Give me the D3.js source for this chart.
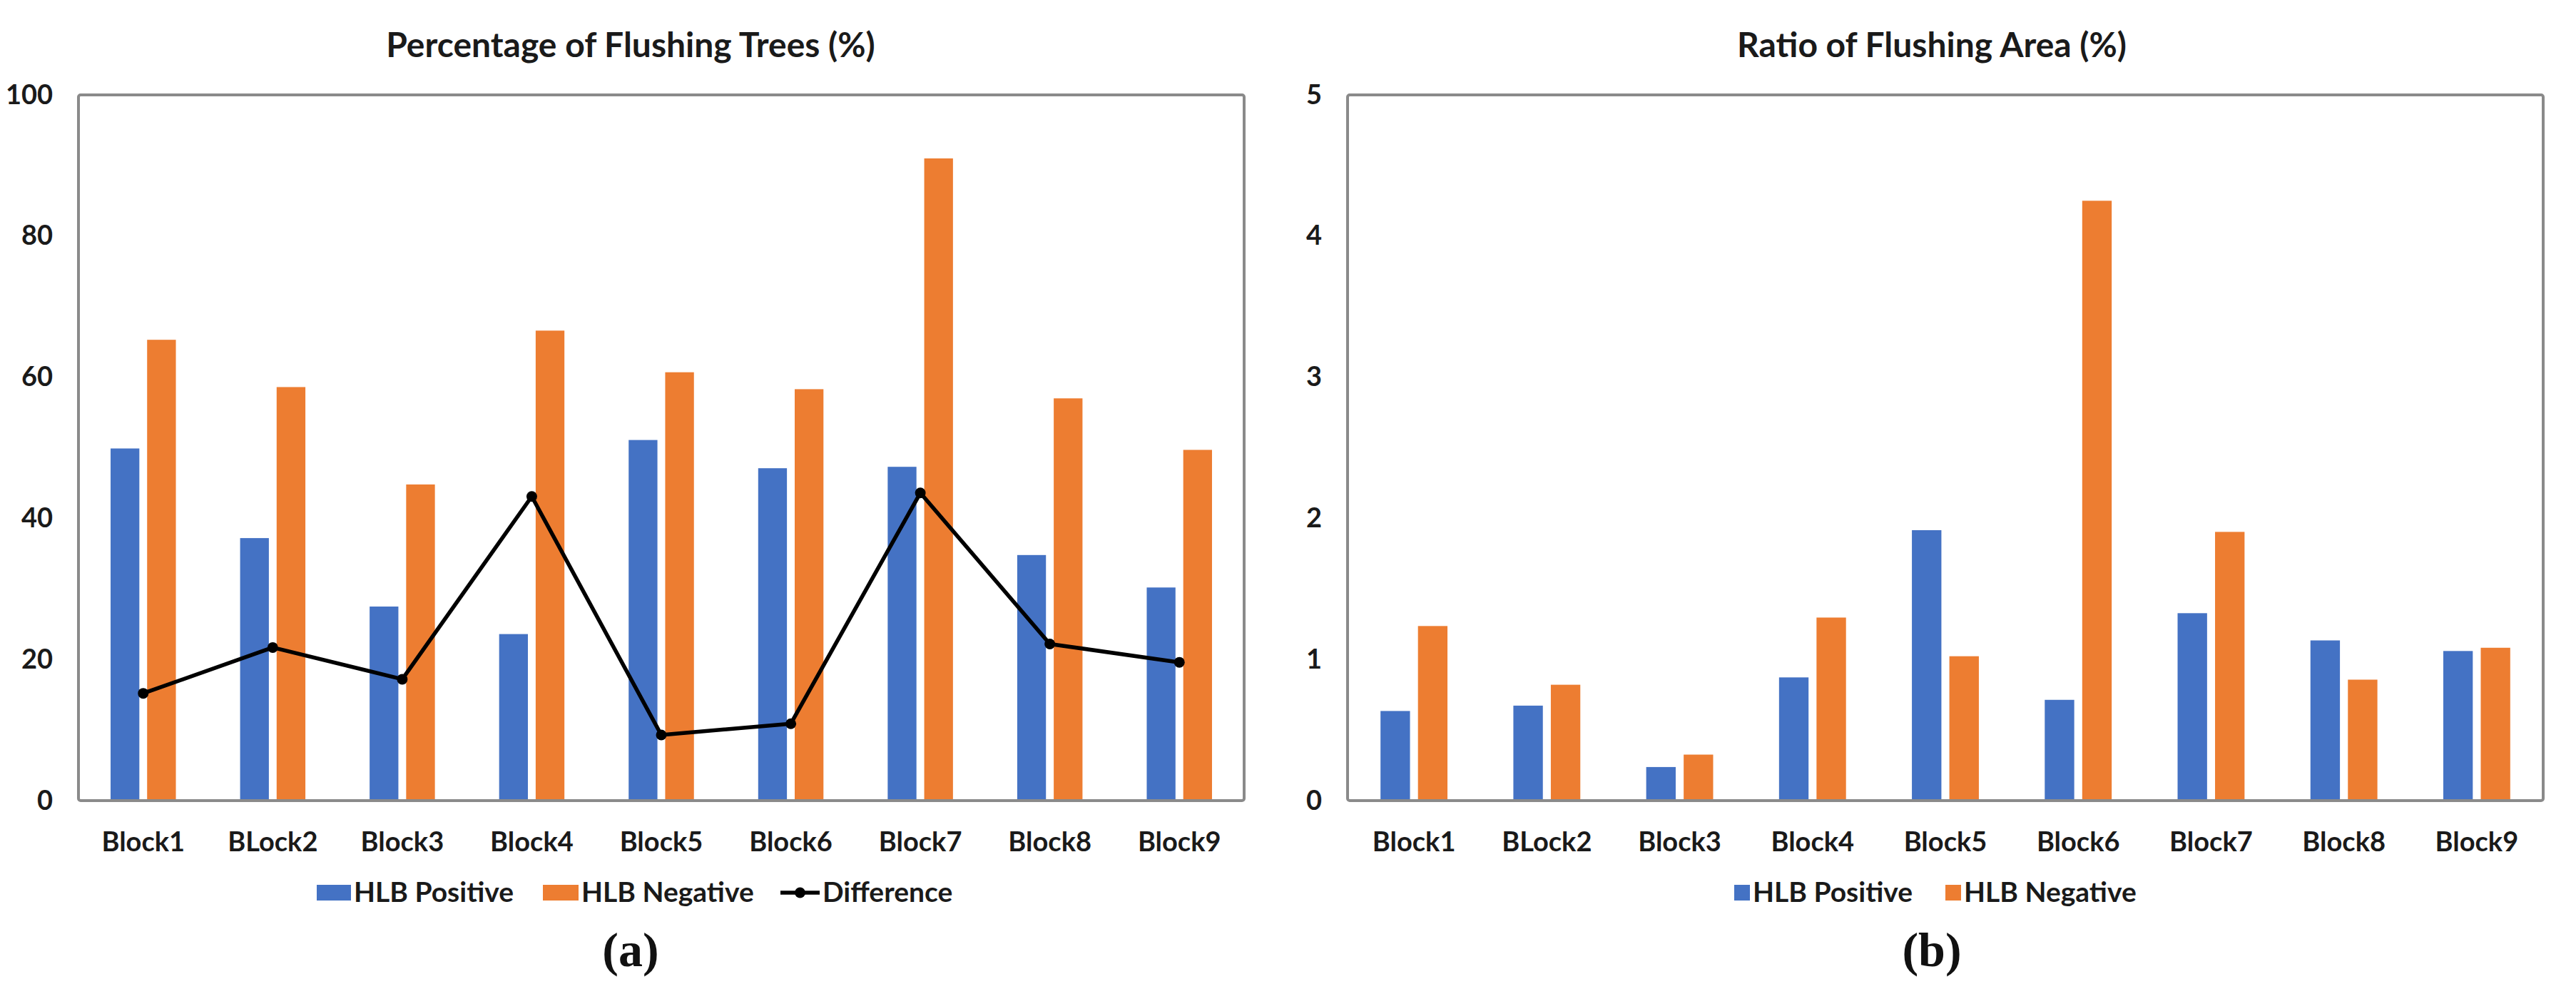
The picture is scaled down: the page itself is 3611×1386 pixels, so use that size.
<!DOCTYPE html>
<html>
<head>
<meta charset="utf-8">
<script src="https://cdn.jsdelivr.net/npm/d3@7"></script>
<style>
  html, body { margin: 0; padding: 0; background: #ffffff; }
  svg { display: block; }
</style>
</head>
<body>
<svg id="chart" width="3611" height="1386"></svg>
<script>
// ---- data ----
const categories = ["Block1", "BLock2", "Block3", "Block4", "Block5", "Block6", "Block7", "Block8", "Block9"];

// (a) Percentage of Flushing Trees (%)
const treesPositive   = [49.9, 37.2, 27.5, 23.6, 51.1, 47.1, 47.3, 34.8, 30.2];
const treesNegative   = [65.3, 58.6, 44.8, 66.6, 60.7, 58.3, 91.0, 57.0, 49.7];
const treesDifference = [15.2, 21.7, 17.2, 43.1, 9.3, 10.9, 43.6, 22.2, 19.6];
const treesTicks = [0, 20, 40, 60, 80, 100];

// (b) Ratio of Flushing Area (%)
const areaPositive = [0.635, 0.673, 0.238, 0.873, 1.916, 0.714, 1.328, 1.135, 1.06];
const areaNegative = [1.237, 0.821, 0.326, 1.297, 1.023, 4.25, 1.904, 0.857, 1.083];
const areaTicks = [0, 1, 2, 3, 4, 5];

const seriesNames = ["HLB Positive", "HLB Negative", "Difference"];
const titles = ["Percentage of Flushing Trees (%)", "Ratio of Flushing Area (%)"];
const panelLabels = ["(a)", "(b)"];

// ---- styles ----
const BLUE = "#4472C4", ORANGE = "#ED7D31", BORDER = "#8a8a8a";
const SANS = "Lato, 'Noto Sans', sans-serif";
const SERIF = "'Liberation Serif', 'Times New Roman', serif";
const TXT = "#1a1a1a";

const svg = d3.select("#chart");

function sans(sel, size) {
  return sel.style("font-family", SANS).style("font-weight", "700").style("font-size", size + "px").style("fill", TXT);
}

function panel(opts) {
  const g = svg.append("g");
  const x = d3.scaleBand().domain(categories).range([opts.left, opts.right]).padding(0);
  const y = d3.scaleLinear().domain([opts.ticks[0], opts.ticks[opts.ticks.length - 1]]).range([opts.bottom, opts.top]);
  const bw = x.bandwidth();
  const barW = bw * 0.222, gap = bw * 0.06;

  // bars
  const series = [
    { vals: opts.pos, color: BLUE, off: -gap / 2 - barW },
    { vals: opts.neg, color: ORANGE, off: gap / 2 }
  ];
  series.forEach(s => {
    g.selectAll(null).data(categories).enter().append("rect")
      .attr("x", (c) => x(c) + bw / 2 + s.off)
      .attr("y", (c, i) => y(s.vals[i]))
      .attr("width", barW)
      .attr("height", (c, i) => y(0) - y(s.vals[i]))
      .attr("fill", s.color);
  });

  // difference line
  if (opts.diff) {
    const line = d3.line().x((d, i) => x(categories[i]) + bw / 2).y(d => y(d));
    g.append("path").datum(opts.diff).attr("d", line)
      .attr("fill", "none").attr("stroke", "#000").attr("stroke-width", 5.5)
      .attr("stroke-linejoin", "round");
    g.selectAll(null).data(opts.diff).enter().append("circle")
      .attr("cx", (d, i) => x(categories[i]) + bw / 2)
      .attr("cy", d => y(d)).attr("r", 7.5).attr("fill", "#000");
  }

  // plot border
  g.append("rect")
    .attr("x", opts.left).attr("y", opts.top)
    .attr("width", opts.right - opts.left).attr("height", opts.bottom - opts.top)
    .attr("rx", 3).attr("fill", "none").attr("stroke", BORDER).attr("stroke-width", 4);

  // y axis labels
  const yAxis = d3.axisLeft(y).tickValues(opts.ticks).tickSize(0).tickPadding(36).tickFormat(d3.format("d"));
  const ya = g.append("g").attr("transform", `translate(${opts.left},0)`).call(yAxis);
  ya.select(".domain").remove();
  sans(ya.selectAll("text"), 38);

  // x axis labels
  const xAxis = d3.axisBottom(x).tickSize(0).tickPadding(44);
  const xa = g.append("g").attr("transform", `translate(0,${opts.bottom})`).call(xAxis);
  xa.select(".domain").remove();
  sans(xa.selectAll("text"), 38);

  // title
  sans(g.append("text").attr("x", opts.titleX).attr("y", 80).attr("text-anchor", "middle"), 48).text(opts.title);

  // panel label
  g.append("text").attr("x", opts.titleX).attr("y", 1354).attr("text-anchor", "middle")
    .style("font-family", SERIF).style("font-size", "68px").style("font-weight", "700").style("fill", "#111")
    .text(opts.label);

  // legend
  const lg = g.append("g");
  opts.legend.forEach(item => {
    if (item.type === "rect") {
      lg.append("rect").attr("x", item.x).attr("y", 1240).attr("width", item.w).attr("height", 22).attr("fill", item.color);
    } else {
      lg.append("line").attr("x1", item.x).attr("x2", item.x + item.w).attr("y1", 1251).attr("y2", 1251)
        .attr("stroke", "#000").attr("stroke-width", 5.5);
      lg.append("circle").attr("cx", item.x + item.w / 2).attr("cy", 1251).attr("r", 7.5).attr("fill", "#000");
    }
    sans(lg.append("text").attr("x", item.x + item.w + 4).attr("y", 1264), 39).text(item.name);
  });
}

panel({
  left: 110, right: 1744, top: 133, bottom: 1122,
  ticks: treesTicks, pos: treesPositive, neg: treesNegative, diff: treesDifference,
  title: titles[0], titleX: 884, label: panelLabels[0],
  legend: [
    { type: "rect", x: 444, w: 48, color: BLUE, name: seriesNames[0] },
    { type: "rect", x: 761, w: 50, color: ORANGE, name: seriesNames[1] },
    { type: "line", x: 1094, w: 55, name: seriesNames[2] }
  ]
});

panel({
  left: 1889, right: 3565, top: 133, bottom: 1122,
  ticks: areaTicks, pos: areaPositive, neg: areaNegative, diff: null,
  title: titles[1], titleX: 2708, label: panelLabels[1],
  legend: [
    { type: "rect", x: 2431, w: 22, color: BLUE, name: seriesNames[0] },
    { type: "rect", x: 2727, w: 22, color: ORANGE, name: seriesNames[1] }
  ]
});
</script>
</body>
</html>
